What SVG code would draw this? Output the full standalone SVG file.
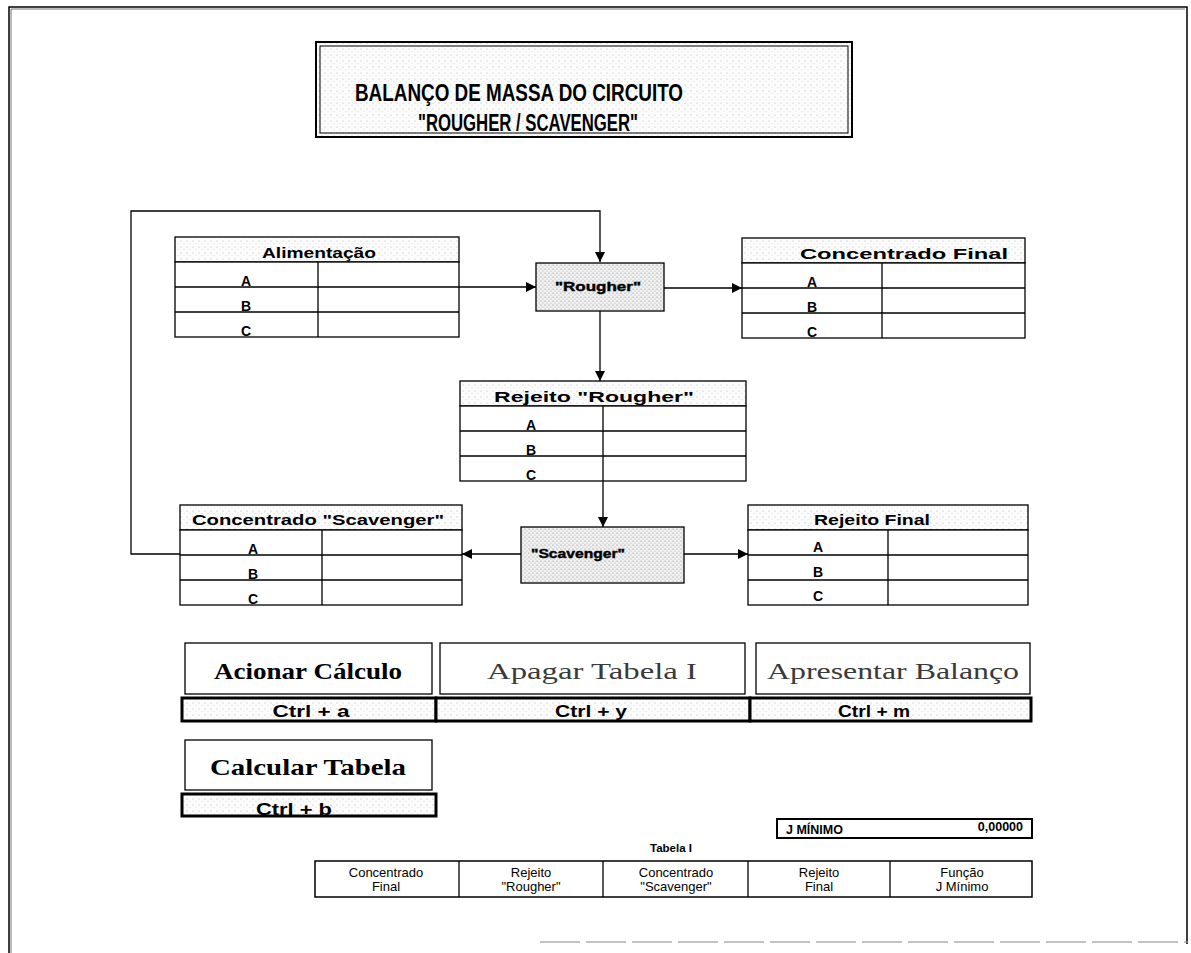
<svg xmlns="http://www.w3.org/2000/svg" width="1191" height="953" viewBox="0 0 1191 953">
<defs>
<pattern id="dots" width="6" height="6" patternUnits="userSpaceOnUse">
<rect width="6" height="6" fill="#fcfcfc"/>
<circle cx="1" cy="1" r="0.5" fill="#a8a8a8"/>
<circle cx="4" cy="3.5" r="0.45" fill="#bdbdbd"/>
</pattern>
<pattern id="dense" width="4" height="4" patternUnits="userSpaceOnUse">
<rect width="4" height="4" fill="#f0f0f0"/>
<circle cx="1" cy="1" r="0.6" fill="#8a8a8a"/>
<circle cx="3" cy="3" r="0.5" fill="#a5a5a5"/>
</pattern>
<marker id="arr" viewBox="0 0 10 10" refX="10" refY="5" markerWidth="10" markerHeight="10" markerUnits="userSpaceOnUse" orient="auto">
<path d="M0,0 L10,5 L0,10 z" fill="#000"/>
</marker>
</defs>
<style>
.ln{fill:none;stroke:#000;stroke-width:1.3}
.cell{fill:#fff;stroke:#000;stroke-width:1.3}
.hdr{fill:url(#dots);stroke:#000;stroke-width:1.3}
.h{font-family:"Liberation Sans",Arial,sans-serif;font-weight:bold;font-size:15px;fill:#000;text-anchor:middle}
.r{font-family:"Liberation Sans",Arial,sans-serif;font-weight:bold;font-size:14px;fill:#000;text-anchor:middle}
.btn{fill:#fff;stroke:#000;stroke-width:1.3}
.bar{fill:url(#dots);stroke:#000;stroke-width:3}
.bt{font-family:"Liberation Serif","Times New Roman",serif;font-size:24px;text-anchor:middle}
.ct{font-family:"Liberation Sans",Arial,sans-serif;font-weight:bold;font-size:17px;text-anchor:middle;fill:#000}
.sm{font-family:"Liberation Sans",Arial,sans-serif;font-size:13px;text-anchor:middle;fill:#000}
</style>
<rect width="1191" height="953" fill="#fff"/>

<g id="frame">
<path d="M9,953 L9,7 L1187,7 L1187,944" fill="none" stroke="#000" stroke-width="1.5"/>
<path d="M11,953 L11,9 L1185,9" fill="none" stroke="#777" stroke-width="1"/>
<path d="M540,942 L1188,942" fill="none" stroke="#888" stroke-width="1" stroke-dasharray="40,6"/>
</g>

<g id="title">
<rect x="316" y="42" width="536" height="95" fill="url(#dots)" stroke="#000" stroke-width="2"/>
<rect x="320" y="46" width="528" height="87" fill="none" stroke="#000" stroke-width="1"/>
<text x="519" y="101" font-family="Liberation Sans,Arial,sans-serif" font-weight="bold" font-size="23" text-anchor="middle" textLength="328" lengthAdjust="spacingAndGlyphs">BALANÇO DE MASSA DO CIRCUITO</text>
<text x="528" y="131" font-family="Liberation Sans,Arial,sans-serif" font-weight="bold" font-size="23" text-anchor="middle" textLength="220" lengthAdjust="spacingAndGlyphs">"ROUGHER / SCAVENGER"</text>
</g>

<g id="connectors">
<polyline class="ln" points="180,554 131,554 131,211 600,211 600,262" marker-end="url(#arr)"/>
<line class="ln" x1="459" y1="287" x2="536" y2="287" marker-end="url(#arr)"/>
<line class="ln" x1="664" y1="288" x2="742" y2="288" marker-end="url(#arr)"/>
<line class="ln" x1="600" y1="311" x2="600" y2="381" marker-end="url(#arr)"/>
<line class="ln" x1="603" y1="481" x2="603" y2="527" marker-end="url(#arr)"/>
<line class="ln" x1="521" y1="554" x2="462" y2="554" marker-end="url(#arr)"/>
<line class="ln" x1="684" y1="554" x2="748" y2="554" marker-end="url(#arr)"/>
</g>

<g id="alimentacao">
<rect class="hdr" x="175" y="237" width="284" height="25"/>
<rect class="cell" x="175" y="262" width="284" height="75"/>
<path class="ln" d="M175,287 H459 M175,312 H459 M318,262 V337"/>
<text class="h" x="319" y="258" textLength="114" lengthAdjust="spacingAndGlyphs">Alimentação</text>
<text class="r" x="246" y="286">A</text>
<text class="r" x="246" y="311">B</text>
<text class="r" x="246" y="336">C</text>
</g>

<g id="rougher">
<rect x="536" y="263" width="128" height="48" fill="url(#dense)" stroke="#000" stroke-width="1.3"/>
<text x="598" y="291" font-family="Liberation Sans,Arial,sans-serif" font-weight="bold" font-size="12.5" text-anchor="middle" textLength="86" lengthAdjust="spacingAndGlyphs" stroke="#000" stroke-width="0.4">"Rougher"</text>
</g>

<g id="concentrado-final">
<rect class="hdr" x="742" y="238" width="283" height="25"/>
<rect class="cell" x="742" y="263" width="283" height="75"/>
<path class="ln" d="M742,288 H1025 M742,313 H1025 M882,263 V338"/>
<text class="h" x="904" y="259" textLength="208" lengthAdjust="spacingAndGlyphs">Concentrado Final</text>
<text class="r" x="812" y="287">A</text>
<text class="r" x="812" y="312">B</text>
<text class="r" x="812" y="337">C</text>
</g>

<g id="rejeito-rougher">
<rect class="hdr" x="460" y="381" width="286" height="25"/>
<rect class="cell" x="460" y="406" width="286" height="75"/>
<path class="ln" d="M460,431 H746 M460,456 H746 M603,406 V481"/>
<text class="h" x="594" y="402" textLength="200" lengthAdjust="spacingAndGlyphs">Rejeito "Rougher"</text>
<text class="r" x="531" y="430">A</text>
<text class="r" x="531" y="455">B</text>
<text class="r" x="531" y="480">C</text>
</g>

<g id="concentrado-scavenger">
<rect class="hdr" x="180" y="505" width="282" height="25"/>
<rect class="cell" x="180" y="530" width="282" height="75"/>
<path class="ln" d="M180,555 H462 M180,580 H462 M322,530 V605"/>
<text class="h" x="318" y="525" textLength="252" lengthAdjust="spacingAndGlyphs">Concentrado "Scavenger"</text>
<text class="r" x="253" y="554">A</text>
<text class="r" x="253" y="579">B</text>
<text class="r" x="253" y="604">C</text>
</g>

<g id="scavenger">
<rect x="521" y="527" width="163" height="56" fill="url(#dense)" stroke="#000" stroke-width="1.3"/>
<text x="578" y="558" font-family="Liberation Sans,Arial,sans-serif" font-weight="bold" font-size="12.5" text-anchor="middle" textLength="94" lengthAdjust="spacingAndGlyphs" stroke="#000" stroke-width="0.4">"Scavenger"</text>
</g>

<g id="rejeito-final">
<rect class="hdr" x="748" y="505" width="280" height="25"/>
<rect class="cell" x="748" y="530" width="280" height="75"/>
<path class="ln" d="M748,555 H1028 M748,580 H1028 M888,530 V605"/>
<text class="h" x="872" y="525" textLength="116" lengthAdjust="spacingAndGlyphs">Rejeito Final</text>
<text class="r" x="818" y="552">A</text>
<text class="r" x="818" y="577">B</text>
<text class="r" x="818" y="601">C</text>
</g>

<g id="btn-acionar">
<rect class="btn" x="185" y="643" width="247" height="51"/>
<text class="bt" x="308" y="679" font-weight="bold" textLength="188" lengthAdjust="spacingAndGlyphs">Acionar Cálculo</text>
<rect class="bar" x="182" y="698" width="254" height="23"/>
<text class="ct" x="311" y="717" textLength="77" lengthAdjust="spacingAndGlyphs">Ctrl + a</text>
</g>

<g id="btn-apagar">
<rect class="btn" x="440" y="643" width="305" height="51"/>
<text class="bt" x="592" y="679" fill="#3a3a3a" textLength="210" lengthAdjust="spacingAndGlyphs">Apagar Tabela I</text>
<rect class="bar" x="436" y="698" width="314" height="23"/>
<text class="ct" x="591" y="717" textLength="72" lengthAdjust="spacingAndGlyphs">Ctrl + y</text>
</g>

<g id="btn-apresentar">
<rect class="btn" x="756" y="643" width="274" height="51"/>
<text class="bt" x="893" y="679" fill="#3a3a3a" textLength="252" lengthAdjust="spacingAndGlyphs">Apresentar Balanço</text>
<rect class="bar" x="750" y="698" width="281" height="23"/>
<text class="ct" x="874" y="717" textLength="72" lengthAdjust="spacingAndGlyphs">Ctrl + m</text>
</g>

<g id="btn-calcular">
<rect class="btn" x="185" y="740" width="247" height="50"/>
<text class="bt" x="308" y="775" font-weight="bold" textLength="196" lengthAdjust="spacingAndGlyphs">Calcular Tabela</text>
<rect class="bar" x="182" y="794" width="254" height="22"/>
<text class="ct" x="294" y="815" textLength="76" lengthAdjust="spacingAndGlyphs">Ctrl + b</text>
</g>

<g id="j-minimo">
<rect x="777" y="819" width="255" height="19" fill="#fff" stroke="#000" stroke-width="2"/>
<text x="786" y="834" font-family="Liberation Sans,Arial,sans-serif" font-weight="bold" font-size="12.5">J MÍNIMO</text>
<text x="1023" y="831" font-family="Liberation Sans,Arial,sans-serif" font-weight="bold" font-size="12.5" text-anchor="end">0,00000</text>
</g>

<g id="tabela-i">
<text x="671" y="852" font-family="Liberation Sans,Arial,sans-serif" font-weight="bold" font-size="11.5" text-anchor="middle">Tabela I</text>
<rect x="315" y="861" width="717" height="36" fill="#fff" stroke="#000" stroke-width="1.5"/>
<path class="ln" d="M459,861 V897 M603,861 V897 M748,861 V897 M890,861 V897"/>
<text class="sm" x="386" y="877">Concentrado</text>
<text class="sm" x="386" y="891">Final</text>
<text class="sm" x="531" y="877">Rejeito</text>
<text class="sm" x="531" y="891">"Rougher"</text>
<text class="sm" x="676" y="877">Concentrado</text>
<text class="sm" x="676" y="891">"Scavenger"</text>
<text class="sm" x="819" y="877">Rejeito</text>
<text class="sm" x="819" y="891">Final</text>
<text class="sm" x="962" y="877">Função</text>
<text class="sm" x="962" y="891">J Mínimo</text>
</g>
</svg>
